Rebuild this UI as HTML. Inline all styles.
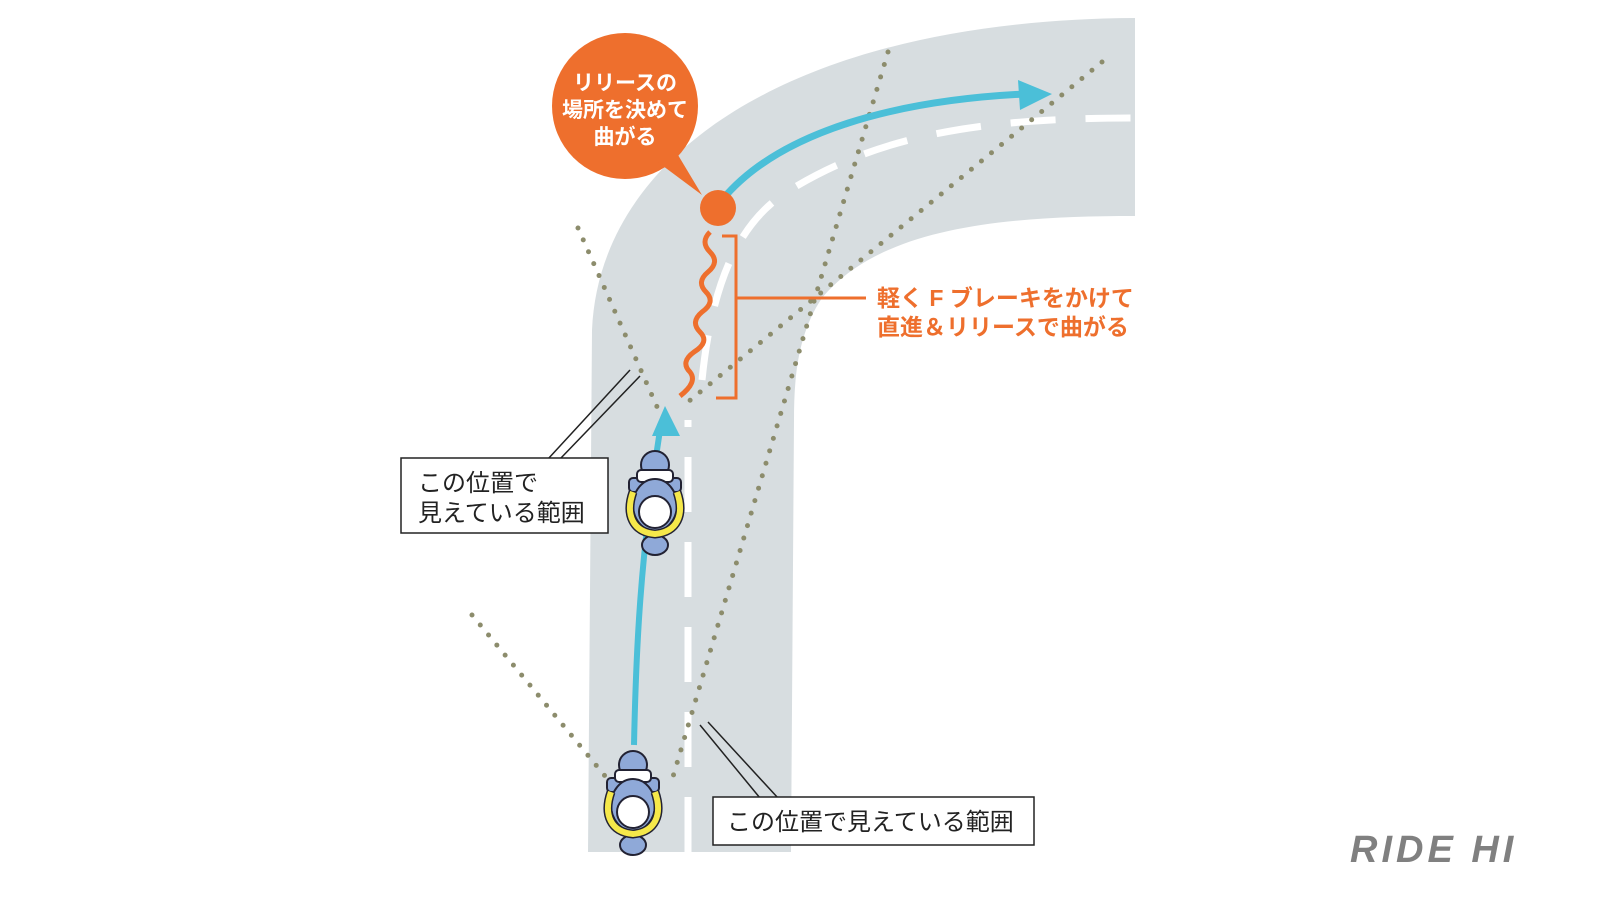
<!DOCTYPE html>
<html><head><meta charset="utf-8"><style>
body{margin:0;background:#fff;}
svg{display:block}
text{font-family:"Liberation Sans","Noto Sans CJK JP",sans-serif;}
</style></head><body>
<svg width="1600" height="900" viewBox="0 0 1600 900">
<path d="M588,852 L592,330 C600,150 800,20 1135,18 L1135,216 C1000,216 880,228 822,298 C797,335 794,380 794,420 L791,852 Z" fill="#d7dde0"/>
<path d="M688,852 L688,420" stroke="#fff" stroke-width="7" stroke-dasharray="55,30" fill="none"/>
<path d="M702,380 C712,280 740,220 790,190 C880,135 980,118 1135,118" stroke="#fff" stroke-width="7" stroke-dasharray="45,30" fill="none"/>
<g stroke="#8c8c6c" stroke-width="5" stroke-linecap="round" stroke-dasharray="0,13" fill="none">
<path d="M578,228 L662,418"/>
<path d="M1102,62 L688,402"/>
<path d="M472,615 L610,782"/>
<path d="M888,52 L672,780"/>
</g>
<path d="M634,745 C636,650 640,560 660,430" stroke="#4bbfd8" stroke-width="6" fill="none"/>
<path d="M652,436 L665,406 L680,436 Z" fill="#4bbfd8"/>
<path d="M722,200 C780,130 900,100 1025,94" stroke="#4bbfd8" stroke-width="7" fill="none"/>
<path d="M1018,80 L1052,94 L1020,110 Z" fill="#4bbfd8"/>
<circle cx="625" cy="106" r="73" fill="#ee6f2d"/>
<path d="M655,160 L702,195 L675,150 Z" fill="#ee6f2d"/>
<text x="625" y="90" font-size="21" font-weight="bold" fill="#fff" text-anchor="middle">リリースの</text>
<text x="625" y="117" font-size="21" font-weight="bold" fill="#fff" text-anchor="middle">場所を決めて</text>
<text x="625" y="144" font-size="21" font-weight="bold" fill="#fff" text-anchor="middle">曲がる</text>
<circle cx="718" cy="208" r="18" fill="#ee6f2d"/>
<path d="M710,232 q-10,10 0,20 q10,10 -2,20 q-12,10 -2,20 q10,10 -4,20 q-12,10 -2,20 q10,10 -6,20 q-14,10 -4,20 q8,10 -10,24" stroke="#ee6f2d" stroke-width="5" fill="none"/>
<path d="M722,236 L736,236 L736,398 L716,398" stroke="#ee6f2d" stroke-width="3" fill="none"/>
<path d="M736,298 L866,298" stroke="#ee6f2d" stroke-width="3"/>
<text x="877" y="306" font-size="23" font-weight="bold" fill="#ee6f2d">軽く F ブレーキをかけて</text>
<text x="877" y="335" font-size="23" font-weight="bold" fill="#ee6f2d">直進＆リリースで曲がる</text>
<path d="M630,370 L548,459 M640,376 L560,459" stroke="#222" stroke-width="1.5" fill="none"/>
<rect x="401" y="458" width="207" height="75" fill="#fff" stroke="#222" stroke-width="1.5"/>
<text x="418" y="491" font-size="24" fill="#222">この位置で</text>
<text x="418" y="521" font-size="24" fill="#222">見えている範囲</text>
<path d="M700,725 L760,798 M708,722 L778,798" stroke="#222" stroke-width="1.5" fill="none"/>
<rect x="713" y="797" width="321" height="48" fill="#fff" stroke="#222" stroke-width="1.5"/>
<text x="727" y="830" font-size="24" fill="#222">この位置で見えている範囲</text>
<g transform="translate(655,500)">
<ellipse cx="0" cy="-35" rx="14" ry="14" fill="#8fa9d8" stroke="#223" stroke-width="2"/>
<ellipse cx="0" cy="45" rx="13" ry="10" fill="#8fa9d8" stroke="#223" stroke-width="2"/>
<rect x="-26" y="-22" width="14" height="14" rx="4" fill="#8fa9d8" stroke="#223" stroke-width="2"/>
<rect x="12" y="-22" width="14" height="14" rx="4" fill="#8fa9d8" stroke="#223" stroke-width="2"/>
<rect x="-18" y="-30" width="36" height="12" rx="4" fill="#fff" stroke="#223" stroke-width="2"/>
<ellipse cx="0" cy="5" rx="22" ry="26" fill="#8fa9d8" stroke="#223" stroke-width="2"/>
<path d="M-22,-8 C-30,15 -22,32 0,34 C22,32 30,15 22,-8" stroke="#223" stroke-width="9" fill="none"/>
<path d="M-22,-8 C-30,15 -22,32 0,34 C22,32 30,15 22,-8" stroke="#f5e84a" stroke-width="6" fill="none"/>
<circle cx="0" cy="12" r="16" fill="#fff" stroke="#223" stroke-width="2"/>
</g>
<g transform="translate(633,800)">
<ellipse cx="0" cy="-35" rx="14" ry="14" fill="#8fa9d8" stroke="#223" stroke-width="2"/>
<ellipse cx="0" cy="45" rx="13" ry="10" fill="#8fa9d8" stroke="#223" stroke-width="2"/>
<rect x="-26" y="-22" width="14" height="14" rx="4" fill="#8fa9d8" stroke="#223" stroke-width="2"/>
<rect x="12" y="-22" width="14" height="14" rx="4" fill="#8fa9d8" stroke="#223" stroke-width="2"/>
<rect x="-18" y="-30" width="36" height="12" rx="4" fill="#fff" stroke="#223" stroke-width="2"/>
<ellipse cx="0" cy="5" rx="22" ry="26" fill="#8fa9d8" stroke="#223" stroke-width="2"/>
<path d="M-22,-8 C-30,15 -22,32 0,34 C22,32 30,15 22,-8" stroke="#223" stroke-width="9" fill="none"/>
<path d="M-22,-8 C-30,15 -22,32 0,34 C22,32 30,15 22,-8" stroke="#f5e84a" stroke-width="6" fill="none"/>
<circle cx="0" cy="12" r="16" fill="#fff" stroke="#223" stroke-width="2"/>
</g>
<text x="1350" y="862" font-size="38" font-weight="bold" font-style="italic" fill="#808080" letter-spacing="4">RIDE HI</text>
</svg>
</body></html>
